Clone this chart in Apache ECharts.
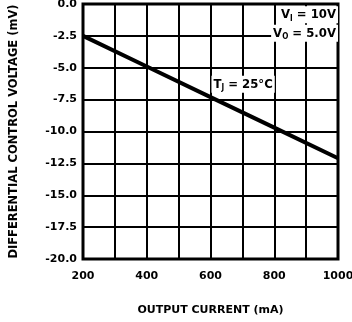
<!DOCTYPE html>
<html><head><meta charset="utf-8">
<script src="https://cdn.jsdelivr.net/npm/echarts@6/dist/echarts.min.js"></script>
<style>html,body{margin:0;padding:0;background:#fff}#c{width:352px;height:322px}</style>
</head><body><div id="c"></div>
<script>
const currents = [200, 400, 600, 800, 1000];
const voltages = [-2.5, -4.9, -7.3, -9.7, -12.1];
const xTickLabels = ['200', '', '400', '', '600', '', '800', '', '1000'];
const yTickLabels = ['-20.0', '-17.5', '-15.0', '-12.5', '-10.0', '-7.5', '-5.0', '-2.5', '0.0'];
const xTitle = 'OUTPUT CURRENT (mA)';
const yTitle = 'DIFFERENTIAL CONTROL VOLTAGE (mV)';
const notes = [
  { x: 603, y: -6.3, parts: ['T', 'J', ' = 25°C'], align: 'left' },
  { x: 1000, y: -0.85, parts: ['V', 'I', ' = 10V'], align: 'right' },
  { x: 1000, y: -2.3, parts: ['V', 'O', ' = 5.0V'], align: 'right' }
];

const FONT = 'DejaVu Sans';
const NFONT = 'DejaVu Sans Condensed';
const chart = echarts.init(document.getElementById('c'), null, { renderer: 'canvas' });
const xMin = 200, xMax = 1000, xStep = 100;
const yMin = -20, yMax = 0, yStep = 2.5;

chart.setOption({
  animation: false,
  backgroundColor: '#fff',
  grid: { left: 83, right: 14, top: 4, bottom: 63, outerBoundsMode: 'none', containLabel: false,
          show: true, borderColor: '#000', borderWidth: 3, backgroundColor: 'transparent' },
  xAxis: {
    type: 'value', min: xMin, max: xMax, interval: xStep,
    name: xTitle, nameLocation: 'middle', nameGap: 46,
    nameTextStyle: { fontFamily: FONT, fontWeight: 'bold', fontSize: 11, color: '#000' },
    axisLine: { show: false }, axisTick: { show: false },
    splitLine: { show: true, lineStyle: { color: '#000', width: 2 } },
    axisLabel: {
      margin: 12, fontFamily: FONT, fontWeight: 'bold', fontSize: 11, color: '#000',
      formatter: v => xTickLabels[Math.round((v - xMin) / xStep)] || ''
    }
  },
  yAxis: {
    type: 'value', min: yMin, max: yMax, interval: yStep,
    name: yTitle, nameLocation: 'middle', nameGap: 63,
    nameTextStyle: { fontFamily: FONT, fontWeight: 'bold', fontSize: 11.5, color: '#000' },
    axisLine: { show: false }, axisTick: { show: false },
    splitLine: { show: true, lineStyle: { color: '#000', width: 2 } },
    axisLabel: {
      margin: 6, fontFamily: FONT, fontWeight: 'bold', fontSize: 11, color: '#000',
      formatter: v => yTickLabels[Math.round((v - yMin) / yStep)] || ''
    }
  },
  series: [{
    type: 'line',
    data: currents.map((c, i) => [c, voltages[i]]),
    symbol: 'none',
    lineStyle: { color: '#000', width: 4 },
    z: 3,
    markPoint: {
      symbol: 'circle', symbolSize: 0,
      z: 5,
      data: notes.map(n => ({
        coord: [n.x, n.y],
        label: {
          show: true, position: 'inside', align: n.align, verticalAlign: 'middle',
          backgroundColor: '#fff', padding: [1, 2, 1, 2],
          formatter: '{a|' + n.parts[0] + '}{s|' + n.parts[1] + '}{a|' + n.parts[2] + '}',
          rich: {
            a: { fontFamily: NFONT, fontWeight: 'bold', fontSize: 13, color: '#000', lineHeight: 15 },
            s: { fontFamily: NFONT, fontWeight: 'bold', fontSize: 8, color: '#000', padding: [8, 0, 0, 0], lineHeight: 15 }
          }
        }
      }))
    }
  }]
});
</script></body></html>
